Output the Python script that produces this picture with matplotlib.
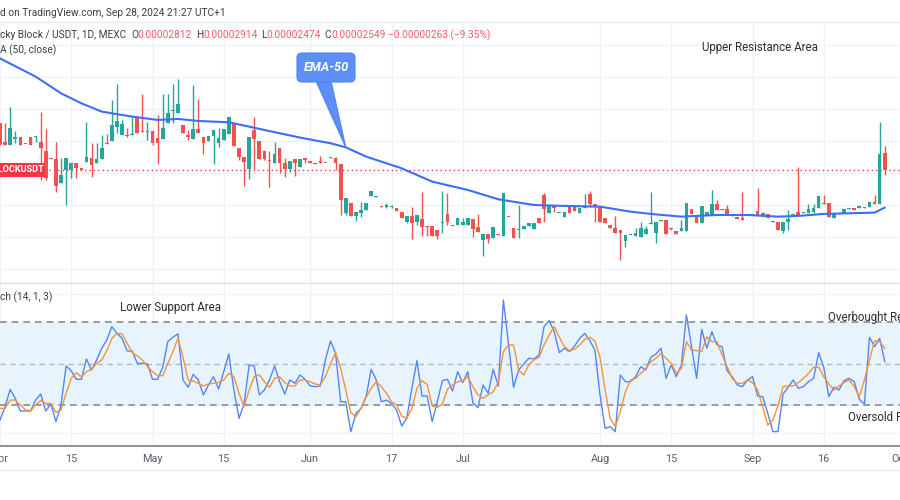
import numpy as np
import pandas as pd
import matplotlib
matplotlib.use("Agg")
import matplotlib.pyplot as plt
from matplotlib.patches import FancyBboxPatch, Polygon, Rectangle
from matplotlib.transforms import IdentityTransform
from matplotlib.lines import Line2D

plt.rcParams['font.family'] = ['Roboto', 'DejaVu Sans']

# ---------------- data ----------------
start_date = "2024-04-01"
end_date = "2024-09-28"
missing_days = ["2024-07-13", "2024-07-14", "2024-07-20", "2024-07-27",
                "2024-08-24", "2024-09-08"]

# prices in units of 1e-8 USDT
opens = [3276, 2990, 2938, 3032, 3058, 2948, 3058, 3058, 2990, 2849,
         2740, 2714, 2349, 2547, 2547, 2651, 2573, 2678, 2740, 2651,
         2719, 2974, 3000, 3224, 3094, 3094, 3094, 3365, 3146, 3136,
         3157, 3042, 3032, 3287, 3474, 3443, 3250, 3099, 3032, 3188,
         3068, 3000, 3084, 2964, 3016, 3105, 3266, 2896, 2756, 2558,
         3172, 3006, 2849, 2688, 2662, 2886, 2662, 2558, 2724, 2599,
         2740, 2688, 2651, 2688, 2662, 2756, 2740, 2641, 1870, 2037,
         1829, 1881, 1922, 2141, 2131, 1985, 1974, 1974, 1948, 1896,
         1740, 1829, 1740, 1787, 1672, 1672, 1610, 1714, 1860, 1688,
         1688, 1688, 1688, 1777, 1662, 1454, 1547, 1490, 1547, 1516,
         1818, 1636, 1610, 1631, 1672, 1631, 1797, 2157, 1881, 1990,
         1870, 1808, 1985, 1985, 1881, 1948, 2172, 2016, 1974, 1792,
         1688, 1636, 1610, 1443, 1527, 1521, 1506, 1542, 1704, 1558,
         1756, 1766, 1636, 1594, 1594, 1594, 1938, 1844, 1714, 1844,
         1844, 2016, 1938, 1938, 1844, 1808, 1802, 1860, 1844, 1907,
         1844, 1860, 1740, 1740, 1599, 1740, 1844, 1891, 1881, 1881,
         1896, 1959, 2026, 2026, 1792, 1870, 1870, 1938, 1959, 1959,
         1959, 1974, 2053, 2016, 2812]
highs = [3276, 3276, 3537, 3157, 3068, 2955, 3058, 3084, 3448, 3188,
         2740, 2980, 2730, 2740, 2662, 2651, 2580, 3303, 2974, 2964,
         3094, 3110, 3641, 3891, 3329, 3198, 3381, 3365, 3735, 3303,
         3157, 3407, 3735, 3735, 3891, 3969, 3250, 3172, 3875, 3651,
         3068, 3084, 3172, 3198, 3188, 3381, 3266, 2896, 2756, 3058,
         3381, 3006, 2849, 2849, 2980, 2886, 2730, 2688, 2724, 2724,
         2740, 2688, 2651, 2771, 2662, 2756, 2756, 2641, 2105, 2037,
         1896, 2053, 2026, 2219, 2141, 1985, 2026, 2000, 1948, 1896,
         1829, 1974, 1844, 2209, 1672, 1672, 1610, 2219, 2183, 1688,
         1792, 1792, 1792, 1777, 1860, 1542, 1547, 1662, 1547, 2183,
         1818, 1636, 2000, 1672, 1714, 1714, 1797, 2183, 1985, 1990,
         1881, 1896, 1985, 1985, 1948, 2172, 2224, 2016, 1974, 1792,
         1688, 1829, 1610, 1532, 1542, 1636, 1740, 1678, 2198, 1740,
         1766, 1766, 1636, 1594, 1766, 2026, 1938, 1844, 1990, 1896,
         2235, 2079, 1938, 2000, 1844, 1808, 2198, 1860, 1860, 2271,
         1896, 1860, 1751, 1740, 1740, 1922, 1860, 2599, 1891, 2016,
         2016, 2141, 2157, 2026, 1870, 1870, 1933, 1959, 1959, 1990,
         1974, 2053, 2157, 3303, 2914]
lows = [2938, 2938, 2938, 2964, 2938, 2945, 2938, 2990, 2391, 2391,
        2714, 2209, 2349, 2000, 2417, 2417, 2540, 2678, 2443, 2651,
        2719, 2954, 3000, 3120, 3094, 3068, 3094, 3131, 3136, 3016,
        2938, 2641, 3032, 3287, 3287, 3443, 3120, 3016, 3032, 3120,
        2797, 3000, 2641, 2901, 3016, 3105, 2922, 2704, 2297, 2401,
        2558, 2714, 2704, 2287, 2662, 2506, 2433, 2521, 2454, 2599,
        2651, 2651, 2641, 2651, 2651, 2730, 2547, 1844, 1844, 1829,
        1756, 1818, 1922, 2141, 2131, 1974, 1948, 1948, 1912, 1792,
        1714, 1464, 1688, 1516, 1516, 1516, 1464, 1568, 1688, 1678,
        1688, 1688, 1688, 1506, 1584, 1204, 1402, 1490, 1537, 1516,
        1808, 1490, 1490, 1631, 1672, 1631, 1714, 1740, 1881, 1896,
        1870, 1808, 1870, 1912, 1881, 1948, 1974, 1740, 1740, 1714,
        1636, 1568, 1141, 1349, 1527, 1521, 1506, 1542, 1704, 1412,
        1756, 1542, 1610, 1542, 1594, 1594, 1860, 1714, 1714, 1844,
        1844, 1922, 1922, 1844, 1829, 1777, 1766, 1844, 1844, 1844,
        1818, 1792, 1740, 1610, 1558, 1610, 1844, 1844, 1881, 1881,
        1881, 1959, 2016, 1808, 1792, 1855, 1870, 1938, 1922, 1959,
        1959, 1974, 2016, 2016, 2474]
closes = [2948, 2938, 3198, 3068, 2938, 2950, 2938, 3084, 2886, 2417,
          2714, 2297, 2469, 2740, 2662, 2573, 2547, 2756, 2625, 2724,
          2886, 2954, 3250, 3313, 3261, 3079, 3110, 3131, 3136, 3146,
          2974, 2974, 3198, 3433, 3485, 3579, 3120, 3058, 3188, 3120,
          2974, 3084, 3172, 3042, 3188, 3381, 2922, 2756, 2667, 3058,
          3032, 2714, 2724, 2683, 2803, 2662, 2558, 2688, 2651, 2724,
          2704, 2651, 2641, 2651, 2651, 2730, 2662, 2079, 2105, 1829,
          1896, 1922, 2026, 2219, 2141, 1974, 1995, 1985, 1912, 1792,
          1829, 1714, 1844, 1662, 1662, 1516, 1516, 1730, 1740, 1678,
          1792, 1740, 1792, 1620, 1584, 1542, 1474, 1662, 1537, 2183,
          1808, 1490, 1625, 1672, 1714, 1714, 1714, 1938, 1985, 1948,
          1881, 1896, 1870, 1912, 1948, 1985, 2016, 1974, 1740, 1714,
          1636, 1568, 1568, 1532, 1542, 1568, 1646, 1625, 1714, 1740,
          1766, 1542, 1620, 1542, 1636, 2026, 1860, 1714, 1990, 1896,
          2016, 1922, 1922, 1844, 1829, 1777, 1766, 1844, 1860, 1844,
          1870, 1792, 1751, 1610, 1740, 1782, 1860, 1844, 1891, 1933,
          1959, 2141, 2016, 1808, 1870, 1855, 1933, 1959, 1922, 1990,
          1974, 2053, 2016, 2792, 2549]

ema_dates = ["2024-04-01", "2024-04-08", "2024-04-13", "2024-04-17", "2024-04-21",
             "2024-04-23", "2024-04-27", "2024-05-02", "2024-05-06", "2024-05-10",
             "2024-05-16", "2024-05-20", "2024-05-23", "2024-05-30", "2024-06-05",
             "2024-06-08", "2024-06-12", "2024-06-19", "2024-06-25", "2024-07-02",
             "2024-07-08", "2024-07-17", "2024-07-24", "2024-08-01", "2024-08-07",
             "2024-08-11", "2024-08-17", "2024-08-25", "2024-08-31", "2024-09-06",
             "2024-09-11", "2024-09-16", "2024-09-26", "2024-09-28"]
ema_values = [4290, 4006, 3745, 3589, 3459, 3433, 3381, 3329, 3344, 3313,
              3292, 3224, 3172, 3053, 2964, 2901, 2756, 2573, 2365, 2235,
              2089, 2000, 1985, 1974, 1896, 1860, 1818, 1844, 1844, 1818,
              1829, 1860, 1881, 1959]

stoch_k = [9.2, 18.8, 31.3, 24.9, 15.7, 15.7, 15.7, 23.6, 28, 15.7,
           20.7, 8, 20, 48.2, 44.8, 38.6, 38.6, 53.3, 45.3, 52.6,
           61, 67, 76.7, 71.8, 68.2, 59.1, 59.1, 50.1, 50.1, 49.7,
           38.6, 38.6, 47.3, 65.8, 69, 71.4, 38.1, 32.8, 42.2, 38.1,
           27.3, 34.5, 40.5, 31.6, 44.1, 56.9, 30.9, 10.4, 20.7, 49,
           48.2, 27.3, 30.9, 38.1, 48.2, 36.9, 28, 38.1, 35.7,
           41.7, 38.6, 33.8, 33.3, 33.8, 52.6, 66.3, 57.4, 22.4, 22.4,
           0.8, 14, 17.6, 26.1, 45.8, 38.1, 22.4, 23.6, 21.2, 16.4,
           4.8, 10.4, 32.1, 52.1, 26.5, 26.5, 8, 22.4, 37.6, 38.6,
           30.1, 44.1, 36.2, 44.1, 21.7, 18.1, 34.5, 28.5, 45.8, 33.8,
           95.9, 64.6, 32.8, 45.3, 49.7, 53.8, 53.3, 56.2, 76.7, 81,
           73, 57.9, 61, 58.6, 62.7, 68.2, 71.8, 66.5, 59.8,
           27.3, 3.2, 4.4, 0.8, 41.7, 36.9, 36.9, 40.5, 47.7, 45.3,
           54.5, 56.9, 61, 39.3, 48.9, 40.5, 48.9, 85.1, 62.2, 39.3,
           74.7, 61, 73, 63.4, 62.2, 44.8, 40.5, 34.5, 33.3, 38.1,
           40.5, 26.5, 26.1, 14, 0.8, 0.8, 28, 32.8, 38.1, 32.1,
           33.3, 36.9, 39.3, 57.9, 47.3, 26.1, 32.8, 30.9, 37.6, 39.3,
           36.9, 24.1, 20.7, 68.9, 62.2, 68.2, 51.4]
stoch_d = [17.6, 17.6, 23.6, 23.6, 20, 16.4, 15.7, 20, 23.2, 21.2,
           21.2, 14.7, 16.4, 28.5, 39.3, 43.4, 40.5, 44.1, 45.8, 50.1,
           52.6, 59.3, 68.2, 71.8, 71.4, 64.6, 57.9, 55.5, 52.6, 47.7,
           44.1, 41.2, 41.2, 50.1, 58.6, 68.2, 54.5, 38.1, 37.4, 35.7,
           33.8, 35.2, 35.7, 36.2, 38.1, 42.9, 40.5, 28.5, 18.8, 30.9,
           40.5, 41.7, 36.9, 32.8, 39.3, 40.5, 36.2, 33.8, 33.8,
           38.1, 38.1, 36.9, 35.2, 34.5, 40.5, 50.1, 57.9, 46.5, 30.9,
           14.5, 11.6, 17.6, 25.6, 32.1, 36.9, 33.3, 28.5, 22.4, 20,
           12.1, 10.4, 17.6, 32.1, 37.6, 35, 19.3, 18.3, 20.7, 31.4,
           34.5, 36.9, 37.4, 40.5, 33.3, 27.3, 24.9, 27.3, 29.7, 36.2,
           58.6, 63.4, 63.4, 45.3, 41.7, 49, 52.6, 54.5, 63.4, 70.6,
           76.7, 69, 62.2, 59.3, 60.3, 63.4, 67.5, 69, 66.3,
           54.5, 30.9, 10.4, 4.4, 15.2, 29.7, 38.1, 39.3, 42.9, 46.5,
           51.4, 53.8, 57.4, 53.8, 50.1, 42.9, 46.5, 65.8, 59.8, 59.3,
           58.6, 69.4, 65.8, 65.8, 56.2, 47.7, 39.3, 35.7, 35.7, 38.1,
           36.2, 30.9, 18.8, 5.6, 9.2, 19.3, 33.3, 33.8, 33.8, 36.2,
           39.3, 42.9, 47.3, 47.3, 40.5, 35.2, 30.9, 33.8, 36.2, 38.1,
           33.3, 26.1, 38.1, 52.6, 66.5, 65.8, 61]

tick_labels = ["Apr", "15", "May", "15", "Jun", "17", "Jul", "Aug", "15", "Sep", "16", "Oct"]
tick_dates = ["2024-04-01", "2024-04-15", "2024-05-01", "2024-05-15", "2024-06-01",
              "2024-06-17", "2024-07-01", "2024-08-01", "2024-08-15", "2024-09-01",
              "2024-09-16", "2024-10-01"]

price_grid = [1000, 1500, 2000, 2500, 3000, 3500, 4000, 4500]
stoch_grid = [0, 20, 40, 60, 80, 100]
stoch_levels = [80, 50, 20]

# ---------------- derived positions ----------------
dates = pd.DatetimeIndex([d for d in pd.date_range(start_date, end_date)
                          if d.strftime("%Y-%m-%d") not in missing_days])
n = len(dates)
xs = np.arange(n)


def date_pos(ds):
    d = pd.Timestamp(ds)
    if d > dates[-1]:
        return (n - 1) + (d - dates[-1]).days
    return int(dates.searchsorted(d))


tick_pos = [date_pos(d) for d in tick_dates]
ema_pos = [date_pos(d) for d in ema_dates]

o = np.array(opens, float)
h = np.array(highs, float)
l = np.array(lows, float)
c = np.array(closes, float)

W, H = 900, 500
fig = plt.figure(figsize=(9, 5), dpi=100)
fig.patch.set_facecolor("white")


def fx(px):
    return px / W


def fy(py):
    return 1 - py / H


# main pane: pixel rows 22..283, stoch pane 283..446
ax = fig.add_axes([0, fy(283), 1, (283 - 22) / H])
ax2 = fig.add_axes([0, fy(446), 1, (446 - 283) / H], sharex=ax)

xmin, xmax = 0.22, 176.55
ax.set_xlim(xmin, xmax)
ax.set_ylim(781, 4859)
ax2.set_ylim(-9.6, 108.2)

GRID = "#eef1f6"
for a in (ax, ax2):
    a.set_facecolor("white")
    for s in a.spines.values():
        s.set_visible(False)
    a.set_xticks(tick_pos)
    a.grid(True, color=GRID, linewidth=1.0)
    a.set_axisbelow(True)
    a.tick_params(axis="both", length=0)
    a.set_yticklabels([])

ax.set_yticks(price_grid)
ax.set_yticklabels([])
ax.tick_params(axis="x", labelbottom=False)
ax2.set_yticks(stoch_grid)
ax2.set_yticklabels([])
ax2.set_xticklabels(tick_labels)
ax2.tick_params(axis="x", labelsize=7.8, labelcolor="#5a5e6a", pad=6)

# candles
GREEN, RED = "#26a69a", "#ef5350"
cols = [GREEN if cc >= oo else RED for oo, cc in zip(o, c)]
ax.vlines(xs, l, h, colors=cols, linewidth=1.0, zorder=2)
body_h = np.maximum(np.abs(c - o), 14)
ax.bar(xs, body_h, bottom=np.minimum(o, c), width=0.72, color=cols,
       linewidth=0, zorder=3)

# EMA
ax.plot(ema_pos, ema_values, color="#3d6ff4", linewidth=1.5, zorder=4,
        solid_capstyle="round", solid_joinstyle="round")

# last price line
ax.axhline(c[-1], color="#f23645", linestyle=(0, (1, 2.2)), linewidth=1.0, zorder=1)

# stochastic
ax2.axhspan(stoch_levels[2], stoch_levels[0], color="#2196f3", alpha=0.1, linewidth=0, zorder=0)
ax2.axhline(stoch_levels[0], color="#8a8d96", linestyle=(0, (4, 3)), linewidth=1.2, zorder=1)
ax2.axhline(stoch_levels[1], color="#b6b9c1", linestyle=(0, (4, 3)), linewidth=1.0, zorder=1)
ax2.axhline(stoch_levels[2], color="#8a8d96", linestyle=(0, (4, 3)), linewidth=1.2, zorder=1)
ax2.plot(xs, stoch_k, color="#5585f5", linewidth=1.0, zorder=3)
ax2.plot(xs, stoch_d, color="#f7913a", linewidth=1.0, zorder=4)

# frame lines
fig.add_artist(Line2D([0, 1], [fy(22), fy(22)], color="#e8ebf0", linewidth=1.0))
fig.add_artist(Line2D([0, 1], [fy(283), fy(283)], color="#dfe2e8", linewidth=1.0))
fig.add_artist(Line2D([0, 1], [fy(446), fy(446)], color="#8c8f98", linewidth=1.4))
fig.add_artist(Line2D([0, 1], [fy(470), fy(470)], color="#eceef2", linewidth=1.0))

# ---------------- texts ----------------
TXT = "#3c3f48"
FS = 7.3
fig.text(0, fy(13), "d on TradingView.com, Sep 28, 2024 21:27 UTC+1",
         fontsize=FS, color=TXT, va="center", ha="left")

fmt = lambda v: f"{v * 1e-8:.8f}"
row_y = fy(35)
fig.text(0, row_y, "cky Block / USDT, 1D, MEXC", fontsize=FS, color=TXT, va="center")
REDT = "#f25f68"
chg = c[-1] - o[-1]
pct = chg / o[-1] * 100
segs = [(131, "O", TXT), (137.5, fmt(o[-1]), REDT),
        (196.5, "H", TXT), (203, fmt(h[-1]), REDT),
        (261, "L", TXT), (266.5, fmt(l[-1]), REDT),
        (324.5, "C", TXT), (331, fmt(c[-1]), REDT),
        (388, f"\u2212{abs(chg) * 1e-8:.8f} (\u2212{abs(pct):.2f}%)", REDT)]
for px, s, col in segs:
    fig.text(fx(px), row_y, s, fontsize=FS, color=col, va="center")

fig.text(0, fy(50), "A (50, close)", fontsize=FS, color=TXT, va="center")
fig.text(0, fy(297), "ch (14, 1, 3)", fontsize=FS, color=TXT, va="center")

fig.text(fx(760), fy(47), "Upper Resistance Area", fontsize=8.3, color="#2a2e39",
         va="center", ha="center")
fig.text(fx(170), fy(307), "Lower Support Area", fontsize=8.3, color="#2a2e39",
         va="center", ha="center")
fig.text(fx(828), fy(317), "Overbought Region", fontsize=8.3, color="#2a2e39",
         va="center", ha="left")
fig.text(fx(848), fy(417), "Oversold Region", fontsize=8.3, color="#2a2e39",
         va="center", ha="left")

# EMA-50 callout
fig.canvas.draw()
tip_idx = date_pos("2024-06-08")
tip = ax.transData.transform((tip_idx, ema_values[ema_dates.index("2024-06-08")]))
idt = IdentityTransform()
tail = Polygon([(316, H - 81), (331, H - 81), (tip[0], tip[1])], closed=True,
               facecolor="#5d8ff6", edgecolor="#4f82f0", linewidth=0.8,
               transform=idt, zorder=10)
fig.add_artist(tail)
box = FancyBboxPatch((297, H - 82), 58, 29, boxstyle="round,pad=0,rounding_size=5",
                     facecolor="#5d8ff6", edgecolor="#4f82f0", linewidth=0.8,
                     transform=idt, zorder=11)
fig.add_artist(box)
fig.text(fx(326), fy(67.5), "EMA-50", fontsize=9.2, color="white", style="italic",
         fontweight="bold", ha="center", va="center", zorder=12)

# symbol price label
py_last = ax.transData.transform((0, c[-1]))[1]
lab = Rectangle((0, py_last - 7), 45, 14, facecolor="#f23645", edgecolor="none",
                transform=idt, zorder=10)
fig.add_artist(lab)
fig.text(fx(44), py_last / H, "LBLOCKUSDT", fontsize=6.6, color="white",
         fontweight="bold", ha="right", va="center", zorder=12)

fig.savefig("out.png", dpi=100, facecolor="white")
